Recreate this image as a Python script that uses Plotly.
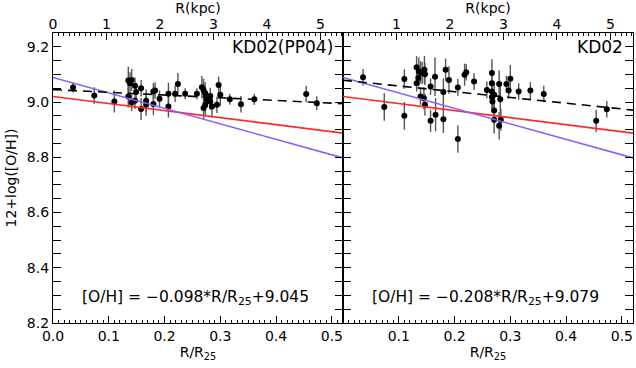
import plotly.graph_objects as go
from plotly.subplots import make_subplots

# R/R25, 12+log(O/H), error -- KD02(PP04) panel
x_pp04 = [0.036, 0.074, 0.110, 0.135, 0.138, 0.141, 0.147, 0.149, 0.135, 0.141, 0.147,
          0.158, 0.158, 0.167, 0.167, 0.180, 0.183, 0.180, 0.191, 0.207, 0.207, 0.224,
          0.219, 0.237, 0.258, 0.267, 0.270, 0.273, 0.270, 0.273, 0.276, 0.282, 0.282,
          0.285, 0.297, 0.300, 0.294, 0.317, 0.337, 0.361, 0.454, 0.473]
y_pp04 = [9.053, 9.024, 9.002, 9.078, 9.068, 9.080, 9.059, 9.036, 9.020, 8.998, 9.005,
          9.050, 8.975, 9.005, 8.990, 9.038, 9.042, 8.993, 9.012, 9.030, 8.984, 9.065,
          9.030, 9.030, 9.030, 9.054, 9.044, 9.032, 8.978, 8.990, 9.008, 9.022, 9.002,
          8.984, 9.062, 9.026, 8.990, 9.010, 8.992, 9.010, 9.029, 8.996]
e_pp04 = [0.018, 0.03, 0.04, 0.05, 0.04, 0.04, 0.03, 0.03, 0.04, 0.03, 0.03,
          0.03, 0.04, 0.04, 0.04, 0.03, 0.03, 0.04, 0.03, 0.04, 0.04, 0.04,
          0.03, 0.02, 0.02, 0.04, 0.04, 0.04, 0.04, 0.04, 0.03, 0.03, 0.03,
          0.04, 0.03, 0.04, 0.03, 0.02, 0.03, 0.02, 0.03, 0.025]

# KD02 panel
x_kd02 = [0.036, 0.074, 0.110, 0.110, 0.132, 0.136, 0.139, 0.142, 0.146, 0.147, 0.132,
          0.135, 0.139, 0.145, 0.147, 0.157, 0.157, 0.165, 0.166, 0.180, 0.180, 0.184,
          0.190, 0.206, 0.206, 0.218, 0.221, 0.235, 0.258, 0.267, 0.267, 0.267, 0.267,
          0.268, 0.271, 0.271, 0.271, 0.280, 0.280, 0.282, 0.283, 0.293, 0.297, 0.300,
          0.315, 0.336, 0.360, 0.454, 0.473]
y_kd02 = [9.090, 8.982, 9.083, 8.950, 9.126, 9.111, 9.108, 9.105, 9.117, 9.101, 9.068,
          9.087, 9.020, 9.014, 8.990, 9.056, 8.932, 9.092, 8.954, 9.036, 8.938, 9.117,
          9.080, 9.053, 8.866, 9.099, 9.108, 9.074, 9.044, 9.105, 9.068, 9.038, 9.018,
          9.002, 9.026, 8.969, 8.936, 9.065, 8.914, 9.010, 8.936, 9.065, 9.042, 9.084,
          9.038, 9.042, 9.029, 8.932, 8.974]
e_kd02 = [0.03, 0.05, 0.035, 0.05, 0.04, 0.05, 0.04, 0.04, 0.05, 0.04, 0.03,
          0.03, 0.03, 0.04, 0.04, 0.03, 0.04, 0.07, 0.06, 0.05, 0.05, 0.04,
          0.05, 0.03, 0.05, 0.04, 0.03, 0.03, 0.03, 0.05, 0.04, 0.04, 0.04,
          0.04, 0.04, 0.05, 0.05, 0.05, 0.05, 0.05, 0.04, 0.03, 0.03, 0.05,
          0.03, 0.03, 0.03, 0.04, 0.03]

# linear fits: (slope, intercept)
fit_pp04 = (-0.098, 9.045)
fit_kd02 = (-0.208, 9.079)
ref_red = (-0.255, 9.020)
ref_blue = (-0.56, 9.089)

R25_KPC = 10.43
XMAX = 0.52
FONT = "DejaVu Sans"

fig = make_subplots(rows=1, cols=2, shared_yaxes=True, horizontal_spacing=0)

xl = [0, XMAX]
panels = [(1, x_pp04, y_pp04, e_pp04, fit_pp04), (2, x_kd02, y_kd02, e_kd02, fit_kd02)]
for col, xs, ys, es, fit in panels:
    fig.add_trace(go.Scatter(
        x=xs, y=ys, mode="markers",
        marker=dict(color="black", size=6),
        error_y=dict(type="data", array=es, color="#555555", thickness=1.4, width=0),
        showlegend=False), row=1, col=col)
    for (m, b), color, dash in [(ref_red, "#ff2a2a", "solid"), (ref_blue, "#8c5cff", "solid"),
                                (fit, "black", "9px,6px")]:
        fig.add_trace(go.Scatter(
            x=xl, y=[b + m * v for v in xl], mode="lines",
            line=dict(color=color, width=1.6, dash=dash),
            showlegend=False, hoverinfo="skip"), row=1, col=col)

axis_common = dict(showline=True, linecolor="black", linewidth=1.2, ticks="inside",
                   tickcolor="black", tickwidth=1.2, showgrid=False, zeroline=False,
                   automargin=False, tickfont=dict(family=FONT, size=14, color="black"))

fig.update_xaxes(range=[0, XMAX], mirror=True, ticklen=7, dtick=0.1, tickformat=".1f",
                 minor=dict(dtick=0.01, ticklen=3, ticks="inside", tickcolor="black"),
                 title=dict(text="R/R<sub>25</sub>", font=dict(family=FONT, size=14), standoff=0),
                 **axis_common)
fig.update_xaxes(tickvals=[0.1, 0.2, 0.3, 0.4, 0.5], row=1, col=2)
fig.update_yaxes(range=[8.2, 9.25], mirror="allticks", ticklen=8, dtick=0.2, tickformat=".1f",
                 minor=dict(dtick=0.05, ticklen=4, ticks="inside", tickcolor="black"),
                 **axis_common)
fig.update_yaxes(title=dict(text="12+log([O/H])", font=dict(family=FONT, size=14), standoff=6),
                 row=1, col=1)

# top kpc axes
top_common = dict(side="top", range=[0, XMAX * R25_KPC], ticks="inside", ticklen=7,
                  tickcolor="black", tickwidth=1.2, showgrid=False, zeroline=False,
                  showline=False, automargin=False,
                  tickfont=dict(family=FONT, size=14, color="black"),
                  minor=dict(dtick=0.1, ticklen=3, ticks="inside", tickcolor="black"),
                  title=dict(text="R(kpc)", font=dict(family=FONT, size=14), standoff=1))
fig.update_layout(
    xaxis3=dict(overlaying="x", anchor="y", tickvals=[0, 1, 2, 3, 4, 5], **top_common),
    xaxis4=dict(overlaying="x2", anchor="y2", tickvals=[1, 2, 3, 4, 5], **top_common),
)
fig.add_trace(go.Scatter(x=[None], y=[None], xaxis="x3", yaxis="y", showlegend=False))
fig.add_trace(go.Scatter(x=[None], y=[None], xaxis="x4", yaxis="y2", showlegend=False))

label_font = dict(family=FONT, size=17, color="black")
eq_font = dict(family=FONT, size=15.5, color="black")
fig.add_annotation(text="KD02(PP04)", x=0.505, y=9.2, xref="x", yref="y", xanchor="right",
                   yanchor="middle", showarrow=False, font=label_font)
fig.add_annotation(text="KD02", x=0.505, y=9.2, xref="x2", yref="y", xanchor="right",
                   yanchor="middle", showarrow=False, font=label_font)
for ref, (m, b) in [("x", fit_pp04), ("x2", fit_kd02)]:
    fig.add_annotation(text=f"[O/H] = \u2212{abs(m):.3f}*R/R<sub>25</sub>+{b:.3f}",
                       x=0.255, y=8.29, xref=ref, yref="y", xanchor="center",
                       showarrow=False, font=eq_font)

fig.update_layout(width=636, height=368, margin=dict(l=53, r=3, t=33, b=45),
                  plot_bgcolor="white", paper_bgcolor="white",
                  font=dict(family=FONT, color="black"))

# drop the default page margin so the figure sits at the window's corner
fig.write_html("out.html", config={"displayModeBar": False},
               post_script="document.body.style.margin='0';")
